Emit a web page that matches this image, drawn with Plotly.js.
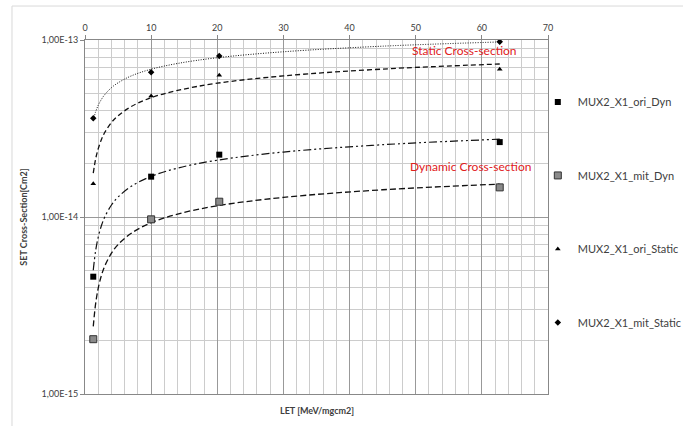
<!DOCTYPE html>
<html>
<head>
<meta charset="utf-8">
<script src="https://cdn.plot.ly/plotly-3.0.1.min.js"></script>
<style>html,body{margin:0;padding:0;background:#fff;}#chart{width:700px;height:426px;}</style>
</head>
<body>
<div id="chart"></div>
<script>
// Measured points (LET in MeV·cm2/mg, cross-section in cm2)
const letValues = [1.25, 10, 20.3, 62.7];
const oriDyn    = [4.60e-15, 1.69e-14, 2.25e-14, 2.65e-14];
const mitDyn    = [2.04e-15, 9.70e-15, 1.22e-14, 1.47e-14];
const oriStatic = [1.54e-14, 4.83e-14, 6.32e-14, 6.83e-14];
const mitStatic = [3.61e-14, 6.57e-14, 8.12e-14, 9.78e-14];

// Trendline curves
const trendX         = [1.25, 1.6, 2, 2.5, 3, 4, 5, 7, 10, 14, 20, 30, 45, 62.7];
const trendOriDyn    = [5.00e-15, 6.42e-15, 7.70e-15, 8.98e-15, 1.003e-14, 1.169e-14, 1.297e-14, 1.491e-14, 1.696e-14, 1.889e-14, 2.094e-14, 2.328e-14, 2.561e-14, 2.752e-14];
const trendMitDyn    = [2.41e-15, 3.22e-15, 3.96e-15, 4.70e-15, 5.30e-15, 6.25e-15, 6.99e-15, 8.10e-15, 9.28e-15, 1.039e-14, 1.157e-14, 1.291e-14, 1.425e-14, 1.534e-14];
const trendOriStatic = [1.77e-14, 2.12e-14, 2.43e-14, 2.75e-14, 3.01e-14, 3.42e-14, 3.73e-14, 4.21e-14, 4.72e-14, 5.19e-14, 5.70e-14, 6.27e-14, 6.85e-14, 7.32e-14];
const trendMitStatic = [3.53e-14, 3.92e-14, 4.28e-14, 4.63e-14, 4.92e-14, 5.38e-14, 5.73e-14, 6.27e-14, 6.84e-14, 7.37e-14, 7.94e-14, 8.58e-14, 9.23e-14, 9.75e-14];

const seriesNames = ['MUX2_X1_ori_Dyn', 'MUX2_X1_mit_Dyn', 'MUX2_X1_ori_Static', 'MUX2_X1_mit_Static'];
const xTickVals = [0, 10, 20, 30, 40, 50, 60, 70];
const yTickVals = [1e-15, 1e-14, 1e-13];
const yTickText = ['1,00E-15', '1,00E-14', '1,00E-13'];
const yMinorVals = [2e-15,3e-15,4e-15,5e-15,6e-15,7e-15,8e-15,9e-15,2e-14,3e-14,4e-14,5e-14,6e-14,7e-14,8e-14,9e-14];

const FONT = 'Lato, "Open Sans", sans-serif';

function trend(y, dash, width) {
  return {x: trendX, y: y, mode: 'lines', showlegend: false, hoverinfo: 'skip',
          line: {color: '#111', width: width, dash: dash, shape: 'spline', smoothing: 1}};
}

const traces = [
  trend(trendOriDyn, '8px,3px,2px,3px,2px,3px', 1.2),
  trend(trendMitDyn, '6px,3px', 1.3),
  trend(trendOriStatic, '5px,3px', 1.3),
  trend(trendMitStatic, '1px,1.5px', 1),
  {x: letValues, y: oriDyn, mode: 'markers', name: seriesNames[0], legendgroup: 'a',
   marker: {symbol: 'square', size: 6, color: '#000'}},
  {x: letValues, y: mitDyn, mode: 'markers', name: seriesNames[1], legendgroup: 'b',
   marker: {symbol: 'square', size: 7, color: '#8a8a8a', line: {color: '#333', width: 1}}},
  {x: letValues, y: oriStatic, mode: 'markers', name: seriesNames[2], legendgroup: 'c',
   marker: {symbol: 'triangle-up', size: 5, color: '#000'}},
  {x: letValues, y: mitStatic, mode: 'markers', name: seriesNames[3], legendgroup: 'd',
   marker: {symbol: 'diamond', size: 5, color: '#000'}}
];

const layout = {
  width: 700, height: 426,
  margin: {l: 85, r: 152, t: 40, b: 32, pad: 0},
  paper_bgcolor: '#fff', plot_bgcolor: '#fff',
  font: {family: FONT, size: 9, color: '#404040'},
  showlegend: true,
  legend: {x: 0.978, xanchor: 'left', y: 0.866, yanchor: 'top', traceorder: 'grouped',
           tracegroupgap: 54.5, bgcolor: 'rgba(0,0,0,0)', font: {family: FONT, size: 11, color: '#404040'}},
  xaxis: {
    range: [0, 70], side: 'top', tickmode: 'array', tickvals: xTickVals,
    showgrid: true, gridcolor: '#999', gridwidth: 1,
    minor: {dtick: 2, showgrid: true, gridcolor: '#cccccc', gridwidth: 1},
    showline: true, linecolor: '#888', linewidth: 1, mirror: true,
    ticks: 'outside', ticklen: 4, tickcolor: '#888',
    zeroline: false, tickfont: {family: FONT, size: 9, color: '#404040'}
  },
  yaxis: {
    type: 'log', range: [-15, -13], tickmode: 'array', tickvals: yTickVals, ticktext: yTickText,
    showgrid: true, gridcolor: '#999', gridwidth: 1,
    minor: {tickmode: 'array', tickvals: yMinorVals, showgrid: true, gridcolor: '#cccccc', gridwidth: 1},
    showline: true, linecolor: '#888', linewidth: 1, mirror: true,
    ticks: 'outside', ticklen: 4, tickcolor: '#888',
    zeroline: false, tickfont: {family: FONT, size: 9, color: '#404040'},
    title: {text: '<b>SET Cross-Section[Cm2]</b>', standoff: 12, font: {family: FONT, size: 9, color: '#404040'}}
  },
  annotations: [
    {xref: 'x', yref: 'y', x: 57.3, y: -13.062, text: 'Static Cross-section', showarrow: false,
     font: {family: FONT, size: 12, color: '#e0201b'}},
    {xref: 'x', yref: 'y', x: 58.3, y: -13.712, text: 'Dynamic Cross-section', showarrow: false,
     font: {family: FONT, size: 12, color: '#e0201b'}},
    {xref: 'paper', yref: 'paper', x: 0.5, y: -0.025, yanchor: 'top', text: '<b>LET [MeV/mgcm2]</b>',
     showarrow: false, font: {family: FONT, size: 9, color: '#404040'}}
  ],
  shapes: [
    {type: 'line', xref: 'paper', yref: 'paper', x0: -0.1577, x1: 1.2916, y0: 1.096, y1: 1.096,
     line: {color: '#d9d9d9', width: 1}},
    {type: 'line', xref: 'paper', yref: 'paper', x0: -0.1577, x1: -0.1577, y0: 1.096, y1: -0.1,
     line: {color: '#d9d9d9', width: 1}}
  ]
};

Plotly.newPlot('chart', traces, layout, {staticPlot: true, displayModeBar: false});
</script>
</body>
</html>
